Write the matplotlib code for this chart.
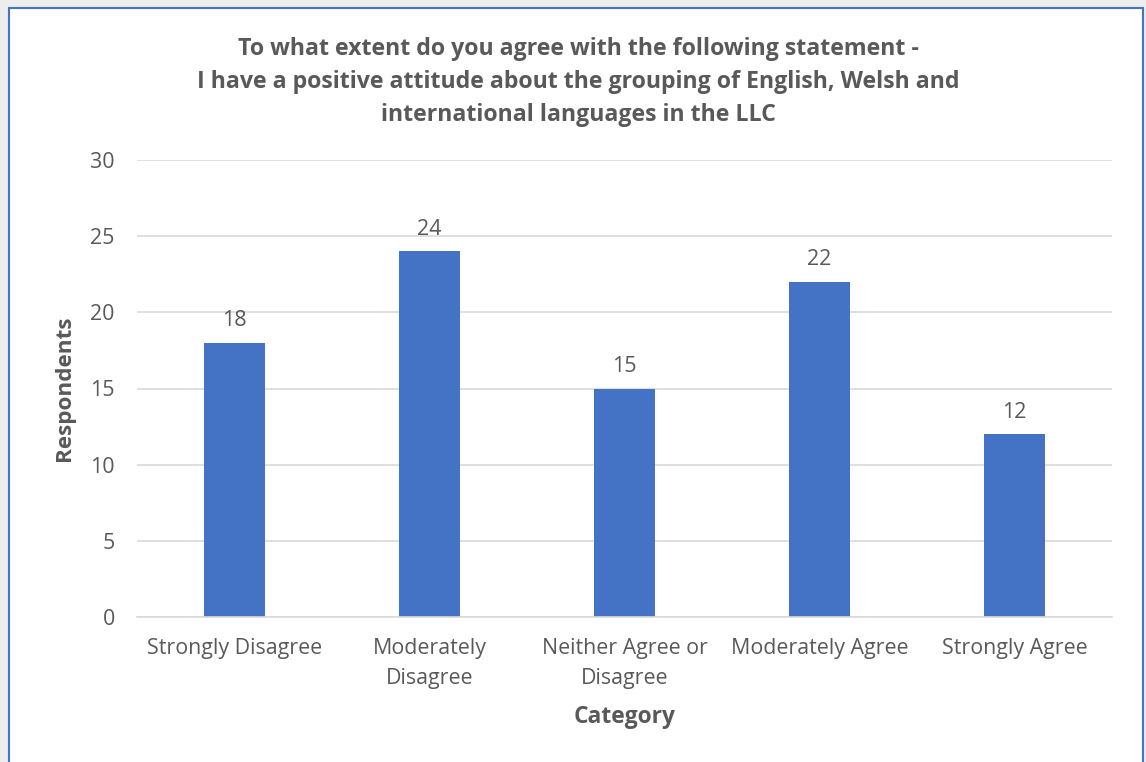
import matplotlib
matplotlib.use("Agg")
import matplotlib.pyplot as plt
from matplotlib.patches import Rectangle

categories = ["Strongly Disagree", "Moderately\nDisagree", "Neither Agree or\nDisagree",
              "Moderately Agree", "Strongly Agree"]
respondents = [18, 24, 15, 22, 12]
y_ticks = [0, 5, 10, 15, 20, 25, 30]

title = ("To what extent do you agree with the following statement -\n"
         "I have a positive attitude about the grouping of English, Welsh and\n"
         "international languages in the LLC")

txt = "#595959"
bar_col = "#4472C4"
grid_col = "#D9D9D9"

plt.rcParams["font.family"] = ["Open Sans", "DejaVu Sans"]

fig = plt.figure(figsize=(11.46, 7.62), dpi=100)
fig.patch.set_facecolor("white")

# frame around the chart
fig.patches.append(Rectangle((0, 0), 1, 1, transform=fig.transFigure,
                             facecolor="#EDEDED", edgecolor="none", zorder=-3))
fig.patches.append(Rectangle((9 / 1146, -0.01), (1143 - 9) / 1146, 1 - 8 / 762 + 0.01,
                             transform=fig.transFigure, facecolor="white",
                             edgecolor="#4472C4", linewidth=1.5, zorder=-2))

ax = fig.add_axes([137 / 1146, 145 / 762, (1112 - 137) / 1146, (617 - 160) / 762])
x = list(range(len(categories)))
bars = ax.bar(x, respondents, width=0.31, color=bar_col, zorder=2)
for b, v in zip(bars, respondents):
    ax.annotate(str(v), (b.get_x() + b.get_width() / 2, v), xytext=(0, 8.2),
                textcoords="offset points", ha="center", va="bottom",
                fontsize=15.4, color=txt)

ax.set_xlim(-0.5, len(categories) - 0.5)
ax.set_ylim(0, 30)
ax.set_yticks(y_ticks)
ax.set_xticks(x)
ax.set_xticklabels(categories, fontsize=15.4, color=txt, linespacing=1.57)
ax.tick_params(axis="y", labelsize=15.4, colors=txt, length=0, pad=16)
ax.tick_params(axis="x", length=0, pad=15)
ax.grid(axis="y", color=grid_col, linewidth=1.2, zorder=0)
for s in ["top", "right", "left"]:
    ax.spines[s].set_visible(False)
ax.spines["bottom"].set_color(grid_col)
ax.spines["bottom"].set_linewidth(1.2)

ax.set_ylabel("Respondents", fontsize=16.2, fontweight="bold", color=txt)
ax.set_xlabel("Category", fontsize=16.4, fontweight="bold", color=txt)
ax.yaxis.set_label_coords(-0.0636, 0.5)
ax.xaxis.set_label_coords(0.5, -0.1926)

fig.text(578 / 1146, 1 - 37 / 762, title, ha="center", va="top", fontsize=16.7,
         fontweight="bold", color=txt, linespacing=1.49)

fig.savefig("out.png", dpi=100)
